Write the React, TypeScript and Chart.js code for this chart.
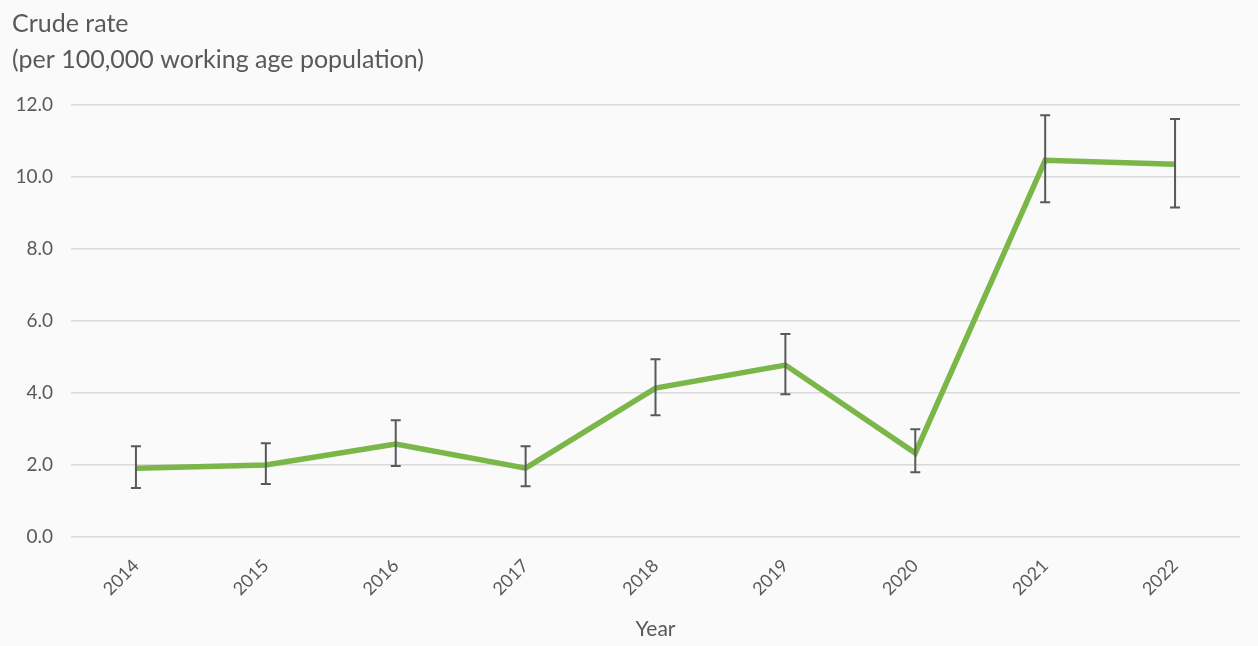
import React, { useEffect, useRef } from "react";
import { Chart, registerables } from "chart.js";

Chart.register(...registerables);

const years = ["2014", "2015", "2016", "2017", "2018", "2019", "2020", "2021", "2022"];
const rates = [1.91, 2.0, 2.58, 1.91, 4.13, 4.77, 2.33, 10.45, 10.34];
const upper = [2.52, 2.6, 3.24, 2.52, 4.93, 5.63, 2.99, 11.7, 11.6];
const lower = [1.36, 1.47, 1.97, 1.41, 3.38, 3.96, 1.8, 9.29, 9.14];
const titleLines = ["Crude rate", "(per 100,000 working age population)"];
const xTitle = "Year";

const FONT = "Lato, 'Open Sans', sans-serif";
const TEXT = "#595959";

const bgPlugin = {
  id: "bg",
  beforeDraw(chart: any) {
    const { ctx, width, height } = chart;
    ctx.save();
    ctx.fillStyle = "#fafafa";
    ctx.fillRect(0, 0, width, height);
    ctx.restore();
  },
};

const errorBarPlugin = {
  id: "errbars",
  afterDatasetsDraw(chart: any) {
    const { ctx } = chart;
    const xs = chart.scales.x;
    const ys = chart.scales.y;
    ctx.save();
    ctx.strokeStyle = "#595959";
    ctx.lineWidth = 2;
    for (let i = 0; i < years.length; i++) {
      const x = xs.getPixelForValue(i);
      const yt = ys.getPixelForValue(upper[i]);
      const yb = ys.getPixelForValue(lower[i]);
      ctx.beginPath();
      ctx.moveTo(x, yt);
      ctx.lineTo(x, yb);
      ctx.moveTo(x - 5, yt);
      ctx.lineTo(x + 5, yt);
      ctx.moveTo(x - 5, yb);
      ctx.lineTo(x + 5, yb);
      ctx.stroke();
    }
    ctx.restore();
  },
};

export default function App() {
  const ref = useRef<HTMLCanvasElement>(null);
  useEffect(() => {
    document.body.style.margin = "0";
    const chart = new Chart(ref.current!, {
      type: "line",
      data: {
        labels: years,
        datasets: [
          {
            data: rates,
            borderColor: "#7ab648",
            borderWidth: 5.5,
            pointRadius: 0,
            tension: 0,
            fill: false,
          },
        ],
      },
      options: {
        animation: false,
        responsive: false,
        layout: { padding: { left: 12, right: 18, top: 0, bottom: 0 } },
        plugins: {
          legend: { display: false },
          tooltip: { enabled: false },
          title: {
            display: true,
            text: titleLines,
            align: "start",
            color: TEXT,
            font: { family: FONT, size: 25, weight: "normal", lineHeight: 1.45 },
            padding: { top: 6, bottom: 26 },
          },
        },
        scales: {
          x: {
            offset: true,
            grid: { display: false },
            border: { display: false },
            afterFit: (s: any) => {
              s.height = 109;
            },
            ticks: {
              color: TEXT,
              font: { family: FONT, size: 18 },
              maxRotation: 45,
              minRotation: 45,
              padding: 10,
            },
            title: {
              display: true,
              text: xTitle,
              color: TEXT,
              font: { family: FONT, size: 21 },
              padding: { top: 2, bottom: 4 },
            },
          },
          y: {
            min: 0,
            max: 12,
            afterFit: (s: any) => {
              s.width = 59;
            },
            grid: { color: "#d9d9d9", lineWidth: 1.5, drawTicks: false },
            border: { display: false },
            ticks: {
              stepSize: 2,
              color: TEXT,
              font: { family: FONT, size: 19 },
              padding: 18,
              callback: (v: any) => Number(v).toFixed(1),
            },
          },
        },
      },
      plugins: [bgPlugin, errorBarPlugin],
    });
    return () => chart.destroy();
  }, []);
  return (
    <div style={{ position: "absolute", left: 0, top: 0, width: 1258, height: 646 }}>
      <canvas ref={ref} width={1258} height={646} />
    </div>
  );
}
